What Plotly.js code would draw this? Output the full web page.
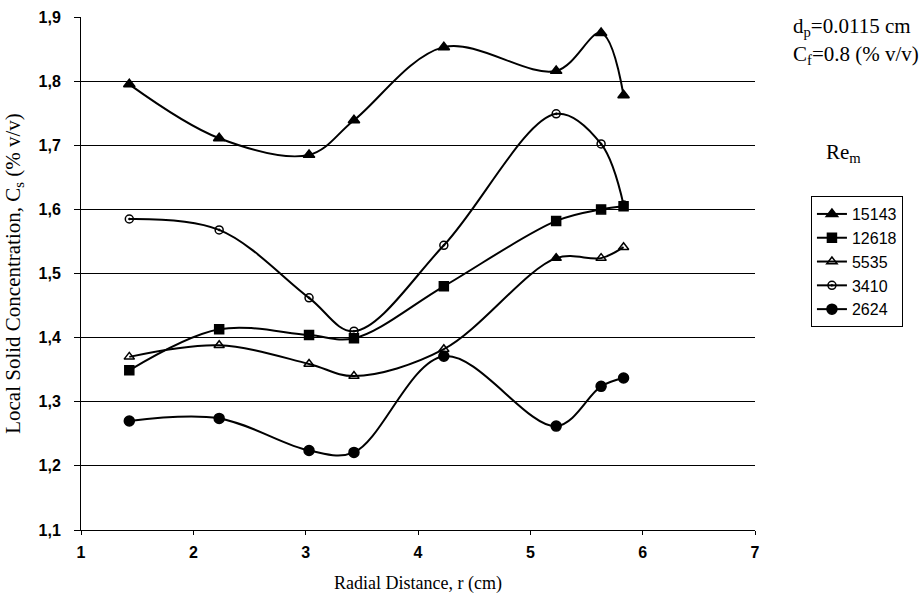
<!DOCTYPE html>
<html>
<head>
<meta charset="utf-8">
<script src="https://cdn.plot.ly/plotly-3.0.1.min.js"></script>
<style>html,body{margin:0;padding:0;background:#fff;}#chart{width:923px;height:603px;}</style>
</head>
<body>
<div id="chart"></div>
<script>
// Radial positions (cm)
const radialDistance = [1.43, 2.23, 3.03, 3.43, 4.23, 5.23, 5.63, 5.83];
// Local solid concentration Cs (% v/v) for each Re_m
const series15143 = [1.795, 1.711, 1.685, 1.739, 1.853, 1.816, 1.875, 1.778];
const series12618 = [1.349, 1.413, 1.404, 1.399, 1.480, 1.582, 1.600, 1.605];
const series5535  = [1.370, 1.388, 1.359, 1.340, 1.382, 1.524, 1.524, 1.541];
const series3410  = [1.585, 1.568, 1.462, 1.410, 1.544, 1.749, 1.702, 1.607];
const series2624  = [1.270, 1.274, 1.224, 1.221, 1.371, 1.262, 1.324, 1.337];
const seriesNames = ['15143', '12618', '5535', '3410', '2624'];
const xTicks = [1, 2, 3, 4, 5, 6, 7];
const yTicks = [1.1, 1.2, 1.3, 1.4, 1.5, 1.6, 1.7, 1.8, 1.9];

const lineStyle = {color: '#000', width: 2, shape: 'spline', smoothing: 1};
function mk(name, y, symbol, size) {
  return {
    x: radialDistance, y: y, name: name, type: 'scatter', mode: 'lines+markers',
    line: lineStyle,
    marker: {symbol: symbol, size: size, color: '#000', line: {color: '#000', width: 1.5}}
  };
}
const data = [
  mk(seriesNames[0], series15143, 'triangle-up', 10),
  mk(seriesNames[1], series12618, 'square', 9),
  mk(seriesNames[2], series5535, ['triangle-up-open','triangle-up-open','triangle-up-open','triangle-up-open','triangle-up-open','triangle-up','triangle-up-open','triangle-up-open'], 9),
  mk(seriesNames[3], series3410, 'circle-open-dot', 8),
  mk(seriesNames[4], series2624, 'circle', 10)
];

const tickFont = {family: 'Liberation Sans Narrow, Liberation Sans, Arial, sans-serif', size: 16, color: '#000', weight: 'bold'};
const serif = 'Liberation Serif, Times New Roman, serif';
const layout = {
  width: 923, height: 603,
  margin: {l: 81, r: 168, t: 17, b: 73},
  paper_bgcolor: '#fff', plot_bgcolor: '#fff',
  separators: ',.',
  showlegend: true,
  xaxis: {
    range: [1, 7], tickvals: xTicks, ticktext: xTicks.map(String),
    showgrid: false, zeroline: false,
    showline: true, linecolor: '#000', linewidth: 1,
    ticks: 'outside', ticklen: 4, tickcolor: '#000',
    ticklabelstandoff: 4,
    tickfont: tickFont,
    title: {text: 'Radial Distance, r (cm)', font: {family: serif, size: 18, color: '#000'}, standoff: 16}
  },
  yaxis: {
    range: [1.1, 1.9], tickvals: yTicks, tickformat: '.1f',
    showgrid: true, gridcolor: '#000', gridwidth: 1, zeroline: false,
    showline: true, linecolor: '#000', linewidth: 1,
    ticks: 'outside', ticklen: 6, tickcolor: '#000',
    ticklabelstandoff: 10,
    tickfont: tickFont,
    title: {text: 'Local Solid Concentration, C<sub>s</sub> (% v/v)', font: {family: serif, size: 21, color: '#000'}, standoff: 12}
  },
  legend: {
    x: 1.083, y: 0.651, xanchor: 'left', yanchor: 'top',
    bordercolor: '#000', borderwidth: 1, bgcolor: '#fff',
    font: {family: 'Liberation Sans, Arial, sans-serif', size: 16, color: '#000'},
    tracegroupgap: 0, itemwidth: 30
  },
  annotations: [
    {xref: 'paper', yref: 'paper', x: 1.053, y: 0.98, xanchor: 'left', yanchor: 'middle', showarrow: false,
     text: 'd<sub>p</sub>=0.0115 cm', font: {family: serif, size: 21, color: '#000'}},
    {xref: 'paper', yref: 'paper', x: 1.053, y: 0.926, xanchor: 'left', yanchor: 'middle', showarrow: false,
     text: 'C<sub>f</sub>=0.8 (% v/v)', font: {family: serif, size: 21, color: '#000'}},
    {xref: 'paper', yref: 'paper', x: 1.1306, y: 0.735, xanchor: 'center', yanchor: 'middle', showarrow: false,
     text: 'Re<sub>m</sub>', font: {family: serif, size: 21, color: '#000'}}
  ]
};
Plotly.newPlot('chart', data, layout, {displayModeBar: false, staticPlot: true});
</script>
</body>
</html>
